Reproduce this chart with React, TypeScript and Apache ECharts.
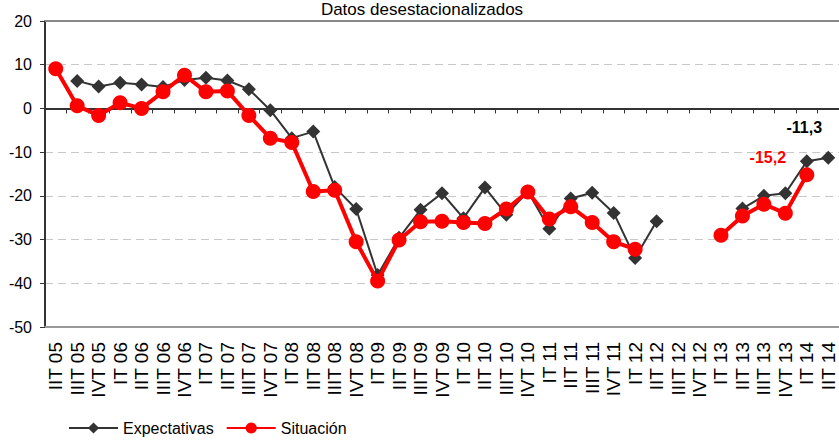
import React, { useEffect, useRef } from "react";
import * as echarts from "echarts";

const categories = [
  "IIT 05", "IIIT 05", "IVT 05",
  "IT 06", "IIT 06", "IIIT 06", "IVT 06",
  "IT 07", "IIT 07", "IIIT 07", "IVT 07",
  "IT 08", "IIT 08", "IIIT 08", "IVT 08",
  "IT 09", "IIT 09", "IIIT 09", "IVT 09",
  "IT 10", "IIT 10", "IIIT 10", "IVT 10",
  "IT 11", "IIT 11", "IIIT 11", "IVT 11",
  "IT 12", "IIT 12", "IIIT 12", "IVT 12",
  "IT 13", "IIT 13", "IIIT 13", "IVT 13",
  "IT 14", "IIT 14",
];

const expectativas: (number | null)[] = [
  null, 6.3, 5.0,
  5.9, 5.5, 4.9, 6.5,
  7.0, 6.4, 4.4, -0.4,
  -6.8, -5.3, -18.0, -23.0,
  -38.1, -29.6, -23.2, -19.4,
  -25.1, -18.1, -24.3, -19.0,
  -27.5, -20.6, -19.3, -23.9,
  -34.2, -25.8, null, null,
  null, -22.9, -20.0, -19.4,
  -12.1, -11.3,
];

const situacion: (number | null)[] = [
  9.1, 0.6, -1.6,
  1.3, 0.0, 3.8, 7.6,
  3.8, 4.0, -1.6, -6.8,
  -7.8, -19.0, -18.7, -30.5,
  -39.5, -30.1, -25.9, -25.8,
  -26.1, -26.3, -23.0, -19.1,
  -25.3, -22.5, -26.1, -30.5,
  -32.2, null, null, null,
  -29.0, -24.6, -21.9, -24.0,
  -15.2, null,
];

const yTicks = { min: -50, max: 20, interval: 10 };
const title = "Datos desestacionalizados";
const seriesNames = ["Expectativas", "Situación"];

const FONT = "'Liberation Sans', Arial, sans-serif";

const fmt = (v: number) => v.toFixed(1).replace(".", ",");

export default function App() {
  const ref = useRef<HTMLDivElement>(null);
  useEffect(() => {
    if (!ref.current) return;
    const chart = echarts.init(ref.current, null, { renderer: "svg" });
    const lastExp = expectativas.length - 1;
    const lastSit = 35;
    const expData = expectativas.map((v, i) =>
      i === lastExp && v !== null
        ? {
            value: v,
            label: {
              show: true,
              position: "inside",
              offset: [-24, -30],
              formatter: () => fmt(v),
              color: "#000",
              fontWeight: "bold",
              fontSize: 16,
              fontFamily: FONT,
            },
          }
        : v
    );
    const sitData = situacion.map((v, i) =>
      i === lastSit && v !== null
        ? {
            value: v,
            label: {
              show: true,
              position: "inside",
              offset: [-39, -17],
              formatter: () => fmt(v),
              color: "#ff0000",
              fontWeight: "bold",
              fontSize: 16,
              fontFamily: FONT,
            },
          }
        : v
    );
    chart.setOption({
      animation: false,
      title: {
        text: title,
        left: 417,
        textAlign: "center",
        top: -4,
        textStyle: { fontFamily: FONT, fontSize: 17, fontWeight: "normal", color: "#000" },
      },
      legend: {
        left: 63,
        top: 415,
        itemWidth: 49,
        itemHeight: 14,
        itemGap: 12,
        textStyle: { fontFamily: FONT, fontSize: 16, color: "#000" },
        data: seriesNames,
      },
      grid: { left: 45, right: -3, top: 21, bottom: 116, containLabel: false },
      xAxis: [
        {
          type: "category",
          data: categories,
          position: "bottom",
          boundaryGap: true,
          axisLine: { onZero: false, lineStyle: { color: "#999", width: 2 } },
          axisTick: { show: false },
          axisLabel: {
            rotate: 90,
            interval: 0,
            margin: 15,
            fontFamily: FONT,
            fontSize: 19,
            color: "#000",
          },
        },
        {
          type: "category",
          data: categories,
          position: "bottom",
          boundaryGap: true,
          axisLine: { onZero: true, lineStyle: { color: "#333", width: 2 } },
          axisTick: { show: true, length: 5, interval: 0, lineStyle: { color: "#333", width: 1 } },
          axisLabel: { show: false },
        },
        {
          type: "category",
          data: categories,
          position: "top",
          axisLine: { onZero: false, lineStyle: { color: "#888", width: 2 } },
          axisTick: { show: false },
          axisLabel: { show: false },
        },
      ],
      yAxis: {
        type: "value",
        min: yTicks.min,
        max: yTicks.max,
        interval: yTicks.interval,
        axisLine: { show: true, onZero: false, lineStyle: { color: "#333", width: 2 } },
        axisTick: { show: true, length: 5, lineStyle: { color: "#333", width: 1 } },
        axisLabel: { margin: 13, fontFamily: FONT, fontSize: 16, color: "#000" },
        splitLine: { show: true, lineStyle: { color: "#c8c8c8", type: [8, 5], width: 1 } },
      },
      series: [
        {
          name: seriesNames[0],
          type: "line",
          data: expData,
          symbol: "diamond",
          symbolSize: 14,
          connectNulls: false,
          itemStyle: { color: "#333333" },
          lineStyle: { color: "#333333", width: 2 },
          z: 2,
        },
        {
          name: seriesNames[1],
          type: "line",
          data: sitData,
          symbol: "circle",
          symbolSize: 15,
          connectNulls: false,
          itemStyle: { color: "#ff0000" },
          lineStyle: { color: "#ff0000", width: 4 },
          z: 3,
        },
      ],
    });
    return () => chart.dispose();
  }, []);
  return (
    <div
      ref={ref}
      style={{ position: "fixed", left: 0, top: 0, width: 839, height: 443, background: "#fff" }}
    />
  );
}
